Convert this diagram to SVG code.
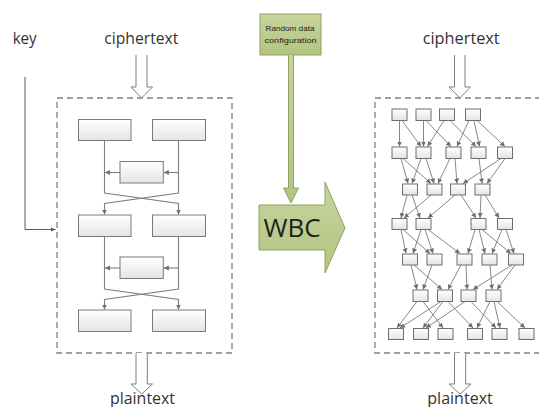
<svg xmlns="http://www.w3.org/2000/svg" width="539" height="407" viewBox="0 0 539 407">
<defs>
<linearGradient id="bx" x1="0" y1="0" x2="0" y2="1">
<stop offset="0" stop-color="#ffffff"/>
<stop offset="1" stop-color="#e4e4e4"/>
</linearGradient>
<linearGradient id="gr" x1="0" y1="0" x2="0" y2="1">
<stop offset="0" stop-color="#c6d49a"/>
<stop offset="1" stop-color="#b3c484"/>
</linearGradient>
<marker id="ah" markerUnits="userSpaceOnUse" markerWidth="6" markerHeight="6" refX="5" refY="3" orient="auto">
<path d="M0,0.5 L5,3 L0,5.5 z" fill="#6f6f6f"/>
</marker>
<marker id="ahk" markerUnits="userSpaceOnUse" markerWidth="6" markerHeight="6" refX="5" refY="3" orient="auto">
<path d="M0,0.8 L5,3 L0,5.2 z" fill="#555555"/>
</marker>
</defs>
<style>
.t{font-family:"Open Sans","Liberation Sans",sans-serif;font-size:15.5px;fill:#333333}
.s{font-family:"Liberation Sans",sans-serif;font-size:8px;fill:#222222}
.b{fill:url(#bx);stroke:#7a7a7a;stroke-width:1}
.n{fill:url(#bx);stroke:#6e6e6e;stroke-width:1}
.dash{fill:none;stroke:#808080;stroke-width:1.3;stroke-dasharray:6,4}
.hol{fill:#ffffff;stroke:#7f7f7f;stroke-width:1}
.c{fill:none;stroke:#7f7f7f;stroke-width:1.1}
.e{fill:none;stroke:#7a7a7a;stroke-width:0.9;marker-end:url(#ah)}
.g{fill:url(#gr);stroke:#8fa35d;stroke-width:1}
</style>
<rect width="539" height="407" fill="#ffffff"/>

<g id="labels">
<text class="t" x="12.7" y="43.5" textLength="24" lengthAdjust="spacingAndGlyphs">key</text>
<text class="t" x="104.3" y="43.5" textLength="74" lengthAdjust="spacingAndGlyphs">ciphertext</text>
<text class="t" x="422.7" y="43.5" textLength="77" lengthAdjust="spacingAndGlyphs">ciphertext</text>
<text class="t" x="110" y="403.5" textLength="65" lengthAdjust="spacingAndGlyphs">plaintext</text>
<text class="t" x="427.3" y="403.5" textLength="65.5" lengthAdjust="spacingAndGlyphs">plaintext</text>
</g>

<g id="left-cipher">
<rect class="dash" x="57" y="98" width="175" height="255"/>
</g>
<g id="right-cipher">
<rect class="dash" x="375" y="98" width="180" height="255"/>
</g>

<g id="left-nodes">
<rect id="L1" class="b" x="78.5" y="119.5" width="52.5" height="21"/>
<rect id="L2" class="b" x="152.5" y="119.5" width="53" height="21"/>
<rect id="M1" class="b" x="120" y="161.5" width="43.3" height="21.5"/>
<rect id="L3" class="b" x="78.5" y="215" width="52.5" height="21.5"/>
<rect id="L4" class="b" x="152.5" y="215" width="53" height="21.5"/>
<rect id="M2" class="b" x="120" y="257" width="43.3" height="21.5"/>
<rect id="L5" class="b" x="78.5" y="310" width="52.5" height="21.5"/>
<rect id="L6" class="b" x="152.5" y="310" width="53" height="21.5"/>
</g>

<g id="right-nodes">
<rect class="n" x="392" y="109" width="15" height="11.5"/>
<rect class="n" x="416" y="109" width="15" height="11.5"/>
<rect class="n" x="439.5" y="109" width="15" height="11.5"/>
<rect class="n" x="465.5" y="109" width="15" height="11.5"/>

<rect class="n" x="392" y="147" width="15" height="11.5"/>
<rect class="n" x="416" y="147" width="15" height="11.5"/>
<rect class="n" x="446" y="147" width="15" height="11.5"/>
<rect class="n" x="471" y="147" width="15" height="11.5"/>
<rect class="n" x="497.5" y="147" width="15" height="11.5"/>

<rect class="n" x="402.5" y="184" width="15" height="11"/>
<rect class="n" x="427" y="184" width="15" height="11"/>
<rect class="n" x="450.5" y="184" width="15" height="11"/>
<rect class="n" x="475" y="184" width="15" height="11"/>

<rect class="n" x="392" y="218.5" width="15" height="11"/>
<rect class="n" x="416" y="218.5" width="15" height="11"/>
<rect class="n" x="471" y="218.5" width="15" height="11"/>
<rect class="n" x="497.5" y="218.5" width="15" height="11"/>

<rect class="n" x="402.5" y="254" width="15" height="11"/>
<rect class="n" x="427" y="254" width="15" height="11"/>
<rect class="n" x="457" y="254" width="15" height="11"/>
<rect class="n" x="482" y="254" width="15" height="11"/>
<rect class="n" x="508.5" y="254" width="15" height="11"/>

<rect class="n" x="413" y="290" width="15" height="11.5"/>
<rect class="n" x="437.5" y="290" width="15" height="11.5"/>
<rect class="n" x="461" y="290" width="15" height="11.5"/>
<rect class="n" x="486" y="290" width="15" height="11.5"/>

<rect class="n" x="388.5" y="328.5" width="15" height="11"/>
<rect class="n" x="413.5" y="328.5" width="15" height="11"/>
<rect class="n" x="438" y="328.5" width="15" height="11"/>
<rect class="n" x="467.5" y="328.5" width="15" height="11"/>
<rect class="n" x="492" y="328.5" width="15" height="11"/>
<rect class="n" x="519" y="328.5" width="15" height="11"/>
</g>

<g id="random-data">
<rect class="g" x="260" y="14" width="61" height="41"/>
<text class="s" x="265.5" y="31" textLength="49" lengthAdjust="spacingAndGlyphs">Random data</text>
<text class="s" x="264.5" y="43" textLength="52" lengthAdjust="spacingAndGlyphs">configuration</text>
</g>
<g id="wbc">
<path class="g" d="M259,205 H325 V182 L345,228 L325,273 V250 H259 Z"/>
<text x="292" y="237" text-anchor="middle" font-family="Open Sans, Liberation Sans, sans-serif" font-size="26" fill="#1f1f1f">WBC</text>
</g>

<g id="connectors">
<path class="hol" d="M136,55 V87 H131 L141.5,98 L152.5,87 H147 V55"/>
<path class="hol" d="M454.5,55 V87 H449 L459.8,98 L470.5,87 H465 V55"/>
<path class="hol" d="M136,353 V384 H131 L141.8,394 L152.5,384 H147.3 V353"/>
<path class="hol" d="M454.5,353 V384 H449 L460,394 L471,384 H465.7 V353"/>
<path class="g" d="M288.5,55 V188 H283.5 L291,203 L298.5,188 H293.5 V55"/>

<path d="M25,77 V229.5 H55.5" fill="none" stroke="#5a5a5a" stroke-width="1" marker-end="url(#ahk)"/>

<path class="c" d="M104.5,140.5 V193 L178.5,203.5 V214.5" marker-end="url(#ah)"/>
<path class="c" d="M178.5,140.5 V193 L104.5,203.5 V214.5" marker-end="url(#ah)"/>
<path class="c" d="M120,172.5 H105" marker-end="url(#ah)"/>
<path class="c" d="M178.5,172.5 H163.8" marker-end="url(#ah)"/>
<path class="c" d="M104.5,236.5 V289 L178.5,299.5 V309.5" marker-end="url(#ah)"/>
<path class="c" d="M178.5,236.5 V289 L104.5,299.5 V309.5" marker-end="url(#ah)"/>
<path class="c" d="M120,268 H105" marker-end="url(#ah)"/>
<path class="c" d="M178.5,268 H163.8" marker-end="url(#ah)"/>

<path class="e" d="M399.5,120.5 L399.5,146.5"/>
<path class="e" d="M402,120.5 L421,146.5"/>
<path class="e" d="M423.5,120.5 L423.5,146.5"/>
<path class="e" d="M426,120.5 L451,146.5"/>
<path class="e" d="M444,120.5 L427.5,146.5"/>
<path class="e" d="M450,120.5 L476,146.5"/>
<path class="e" d="M469,120.5 L457,146.5"/>
<path class="e" d="M474,120.5 L479.5,146.5"/>
<path class="e" d="M477,120.5 L505,146.5"/>

<path class="e" d="M401,158.5 L408,183.5"/>
<path class="e" d="M403,158.5 L431,183.5"/>
<path class="e" d="M421,158.5 L412,183.5"/>
<path class="e" d="M426,158.5 L434,183.5"/>
<path class="e" d="M450,158.5 L438,183.5"/>
<path class="e" d="M455,158.5 L457,183.5"/>
<path class="e" d="M479,158.5 L482,183.5"/>
<path class="e" d="M501,158.5 L463,183.5"/>
<path class="e" d="M505,158.5 L487,183.5"/>

<path class="e" d="M407,195 L401,218"/>
<path class="e" d="M412,195 L420,218"/>
<path class="e" d="M431,195 L404,218"/>
<path class="e" d="M455,195 L428,218"/>
<path class="e" d="M461,195 L476,218"/>
<path class="e" d="M481,195 L480,218"/>
<path class="e" d="M485,195 L499,218"/>

<path class="e" d="M401,229.5 L406,253.5"/>
<path class="e" d="M403,229.5 L430,253.5"/>
<path class="e" d="M421,229.5 L413,253.5"/>
<path class="e" d="M425,229.5 L433,253.5"/>
<path class="e" d="M428,229.5 L460,253.5"/>
<path class="e" d="M475,229.5 L468,253.5"/>
<path class="e" d="M479,229.5 L485,253.5"/>
<path class="e" d="M482,229.5 L511,253.5"/>
<path class="e" d="M502,229.5 L492,253.5"/>
<path class="e" d="M506,229.5 L514,253.5"/>

<path class="e" d="M411,265 L417,289.5"/>
<path class="e" d="M414,265 L442,289.5"/>
<path class="e" d="M432,265 L423,289.5"/>
<path class="e" d="M461,265 L448,289.5"/>
<path class="e" d="M466,265 L467,289.5"/>
<path class="e" d="M490,265 L492,289.5"/>
<path class="e" d="M512,265 L473,289.5"/>
<path class="e" d="M515,265 L497,289.5"/>

<path class="e" d="M417,301.5 L397,328"/>
<path class="e" d="M423,301.5 L443,328"/>
<path class="e" d="M441,301.5 L400,328"/>
<path class="e" d="M443,301.5 L423,328"/>
<path class="e" d="M448,301.5 L473,328"/>
<path class="e" d="M465,301.5 L426,328"/>
<path class="e" d="M471,301.5 L496,328"/>
<path class="e" d="M490,301.5 L477,328"/>
<path class="e" d="M494,301.5 L500,328"/>
<path class="e" d="M497,301.5 L525,328"/>
</g>
</svg>
